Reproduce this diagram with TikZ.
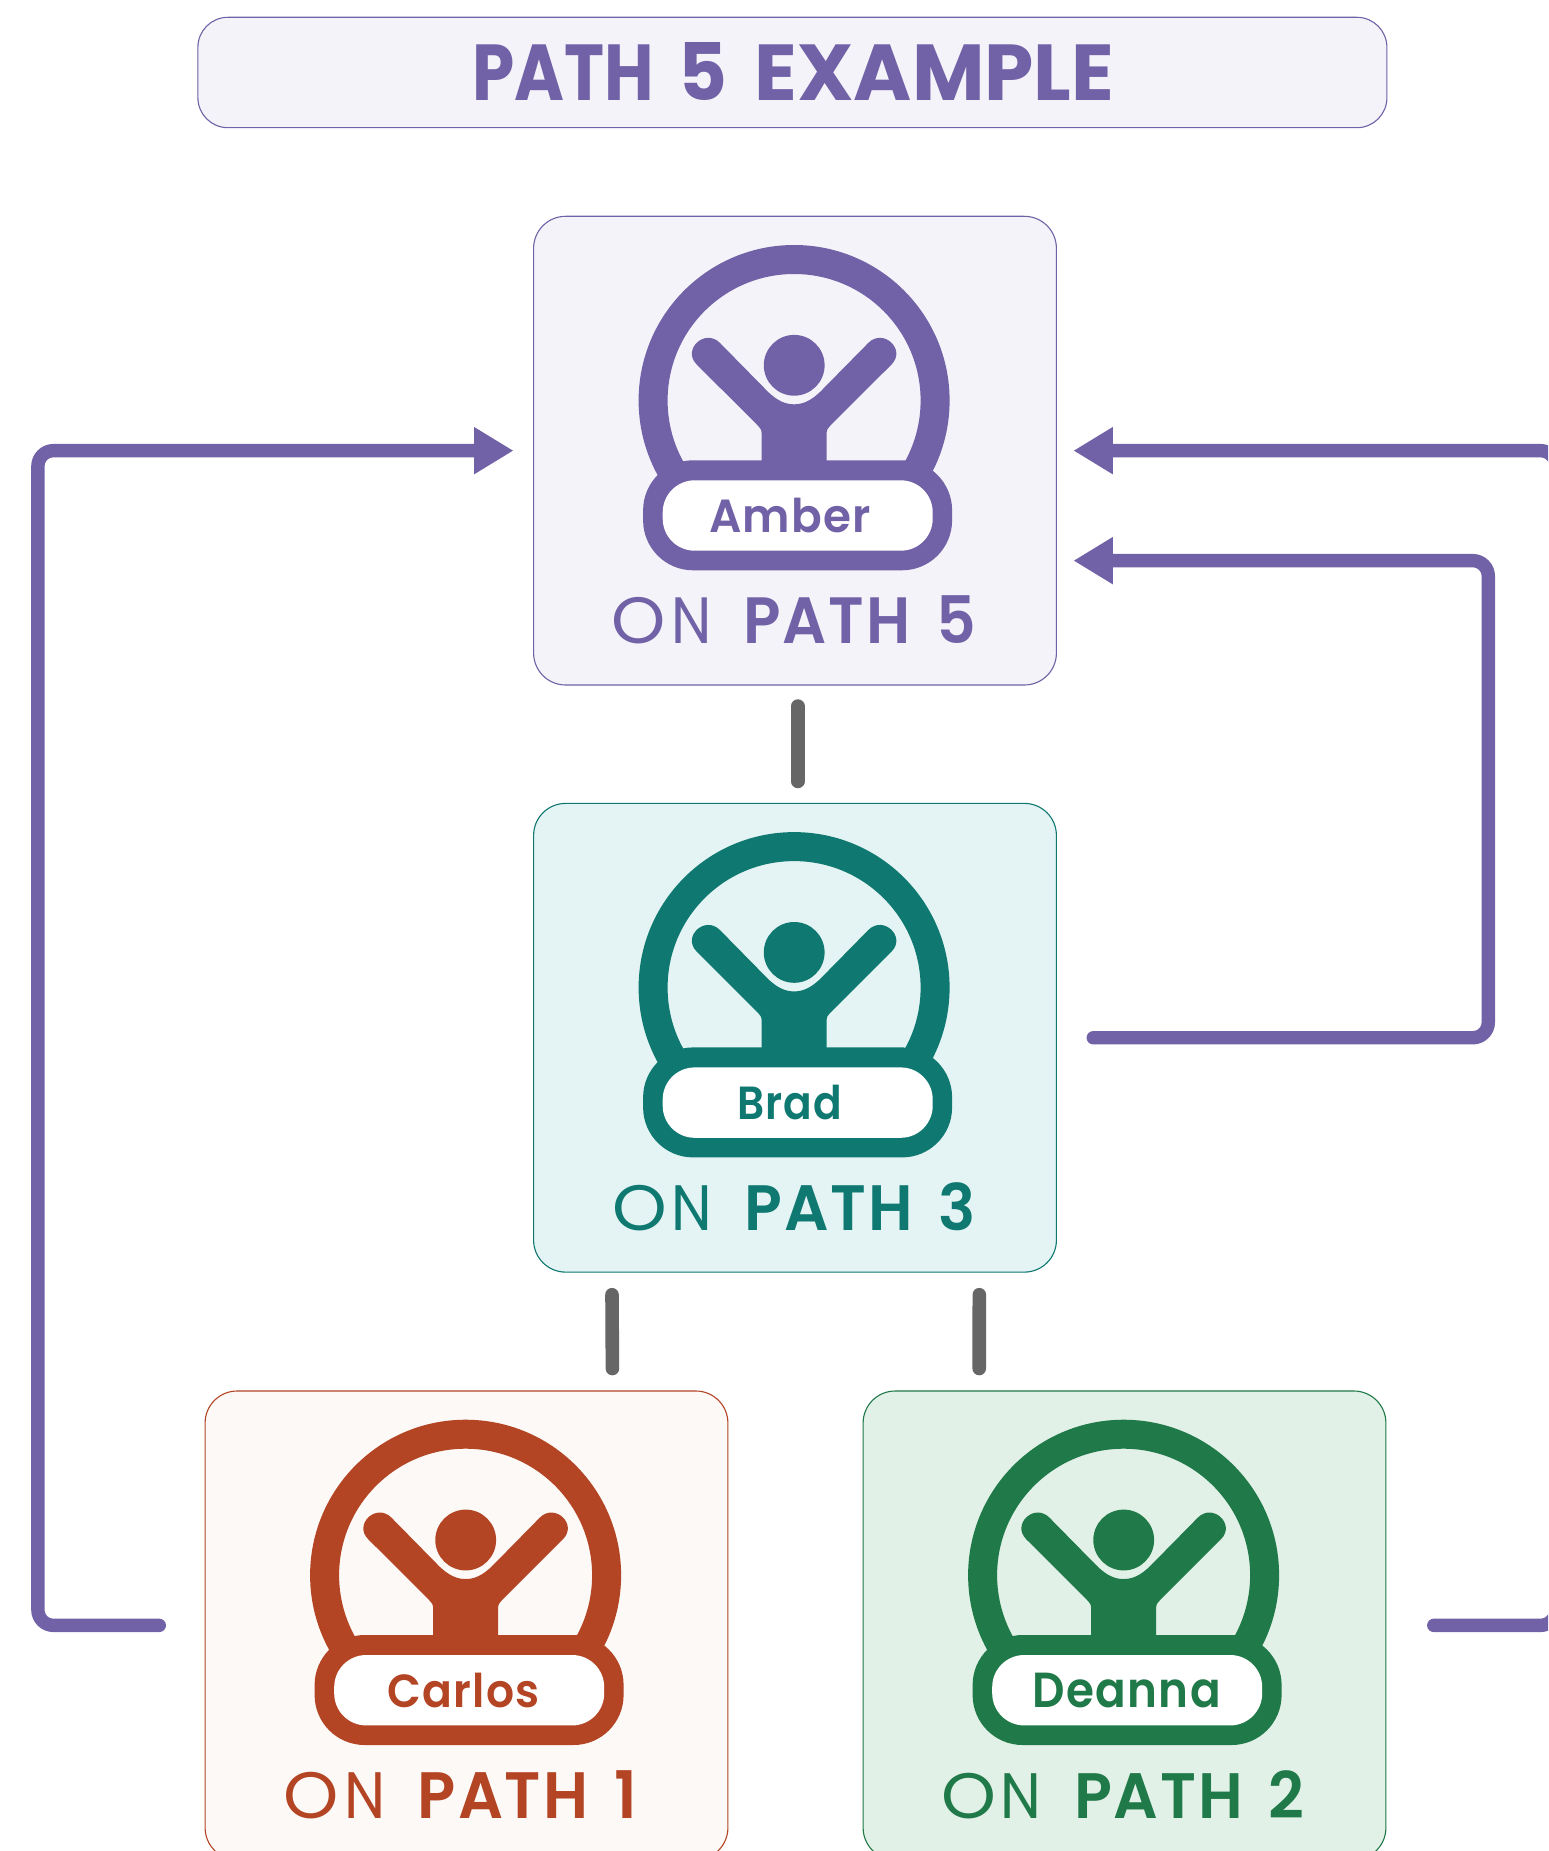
\documentclass[tikz,border=0pt]{standalone}
\usepackage{fontspec}
\usepackage{graphicx}
\usetikzlibrary{arrows.meta}
\newfontfamily\titlef{Poppins Bold}
\newfontfamily\namef{Poppins SemiBold}[LetterSpace=3]
\newfontfamily\onf{Poppins}
\newfontfamily\pathf{Poppins SemiBold}[LetterSpace=3]
\definecolor{pur}{HTML}{7161A7}
\definecolor{purbg}{HTML}{F4F3F9}
\definecolor{tealc}{HTML}{0E7871}
\definecolor{tealbg}{HTML}{E4F4F4}
\definecolor{rust}{HTML}{B34424}
\definecolor{rustbg}{HTML}{FDF9F6}
\definecolor{grn}{HTML}{207948}
\definecolor{grnbg}{HTML}{E1F1E7}
\definecolor{linkgray}{HTML}{666666}
\tikzset{
  cardbox/.style={rectangle,anchor=north west,inner sep=0pt,outer sep=0pt,minimum width=522.8pt,minimum height=468.7pt,rounded corners=32pt,line width=1.1pt},
  titlebox/.style={rectangle,anchor=north west,inner sep=0pt,outer sep=0pt,minimum width=1189pt,minimum height=110.4pt,rounded corners=30pt,line width=1.1pt,draw=pur,fill=purbg},
  fit text/.style={inner sep=0pt,outer sep=0pt},
  graylink/.style={line width=13.6pt,line cap=round,draw=linkgray},
  flow/.style={line width=13.4pt,line cap=round,draw=pur,rounded corners=15.5pt},
  flowtip/.style={-{Triangle[length=39.5pt,width=44.5pt]}},
}
% #1 id, #2 colour, #3 background, #4 icon centre x, #5 card top,
% #6 name, #7 name dx, #8 name width, #9 caption
\newcommand\personcard[9]{%
  \node[cardbox,draw=#2,fill=#3] (#1) at ({#4-260.5},#5) {};
  \begin{scope}[shift={(#4,#5)}]
    \fill[#2,even odd rule] (0,184.2) circle[radius=155.5pt] (0,184.2) circle[radius=126.5pt];
    \fill[#2] (0.1,149) circle[radius=30.4pt];
    \fill[#2] (-32.5,250) -- (-32.5,217)
      .. controls (-32.5,213) and (-34,212) .. (-36.8,208.7)
      -- (-97.4,148.2) .. controls (-112.4,133.2) and (-89.2,111.6) .. (-74.2,126.6)
      -- (-27.9,173.7) .. controls (-16,186) and (-7,188) .. (0,188)
      .. controls (7,188) and (16,186) .. (27.9,173.7)
      -- (74.2,126.6) .. controls (89.2,111.6) and (112.4,133.2) .. (97.4,148.2)
      -- (36.8,208.7) .. controls (34,212) and (32.5,213) .. (32.5,217)
      -- (32.5,250) -- cycle;
    \fill[#2,rounded corners=50pt] (-151,244) rectangle (158,354);
    \fill[white,rounded corners=32pt] (-131.4,264) rectangle (138.6,334.4);
    \node[fit text,text=#2] (#1-name) at (#7,299.4) {\resizebox*{#8pt}{34.8pt}{\namef #6\kern-.03em}};
    \node[fit text,text=#2] (#1-caption) at \captionpos {\resizebox*{\captionw pt}{48.3pt}{#9}};
  \end{scope}
}
\newcommand\captiontext[1]{{\onf\kern-.04em\scalebox{1.12}[1]{O}\kern.08em\scalebox{.93}[1]{N}}\hspace{0.52em}{\pathf PATH\kern.15em\ #1\kern-.05em}}
\begin{document}
\begin{tikzpicture}[x=1pt,y=-1pt]
\useasboundingbox (0,0) rectangle (1548,1851);
\clip (0,0) rectangle (1548,1851);
\fill[white] (0,0) rectangle (1548,1851);

\node[titlebox] (title) at (197.9,17.3) {};
\node[fit text,text=pur] (titletext) at (793.2,71.7) {\resizebox*{642pt}{58pt}{\titlef \scalebox{.9}[1]{PATH}\hspace{.33em}5\hspace{.36em}\scalebox{1.05}[1]{EXAMPLE}}};

\def\captionpos{(-0.5,403.5)}\def\captionw{358.2}
\personcard{amber}{pur}{purbg}{794.1}{216.3}{Amber}{-4.6}{160.7}{\captiontext{5}}
\personcard{brad}{tealc}{tealbg}{794.1}{803.4}{Brad}{-5}{104}{\captiontext{3}}
\def\captionpos{(-5.4,403.5)}\def\captionw{347.6}
\personcard{carlos}{rust}{rustbg}{465.6}{1391}{Carlos}{-3}{151}{\captiontext{1}}
\def\captionpos{(-1,403.5)}\def\captionw{358}
\personcard{deanna}{grn}{grnbg}{1123.6}{1391}{Deanna}{2.5}{187}{\captiontext{2}}

% grey links
\draw[graylink] ([xshift=2.7pt,yshift=-21.1pt]amber.south) -- ([xshift=2.7pt,yshift=22.0pt]brad.north);
\draw[graylink] ([xshift=-183.0pt,yshift=-22.6pt]brad.south) -- ([xshift=145.9pt,yshift=22.5pt]carlos.north);
\draw[graylink] ([xshift=184.3pt,yshift=-22.6pt]brad.south) -- ([xshift=-145.3pt,yshift=22.5pt]deanna.north);

% rails
\coordinate (railL) at (37.9,0);
\coordinate (railM) at (1488.3,0);
\coordinate (railR) at (1556,0);
\coordinate (carlosOut) at ([xshift=-45.8pt]carlos.west);
\coordinate (deannaOut) at ([xshift=47.85pt]deanna.east);
\coordinate (bradOut) at ([xshift=36.85pt]brad.east);
\coordinate (tipL) at ([xshift=-20.1pt]amber.west);
\coordinate (tipR) at ([xshift=17.0pt]amber.east);
\coordinate (tipM) at ([xshift=17.0pt,yshift=-110pt]amber.east);

\draw[flow,flowtip] (carlosOut) -- (railL |- carlosOut) -- (railL |- tipL) -- (tipL);
\draw[flow,flowtip] (deannaOut) -- (railR |- deannaOut) -- (railR |- tipR) -- (tipR);
\draw[flow,flowtip] (bradOut) -- (railM |- bradOut) -- (railM |- tipM) -- (tipM);
\end{tikzpicture}
\end{document}
